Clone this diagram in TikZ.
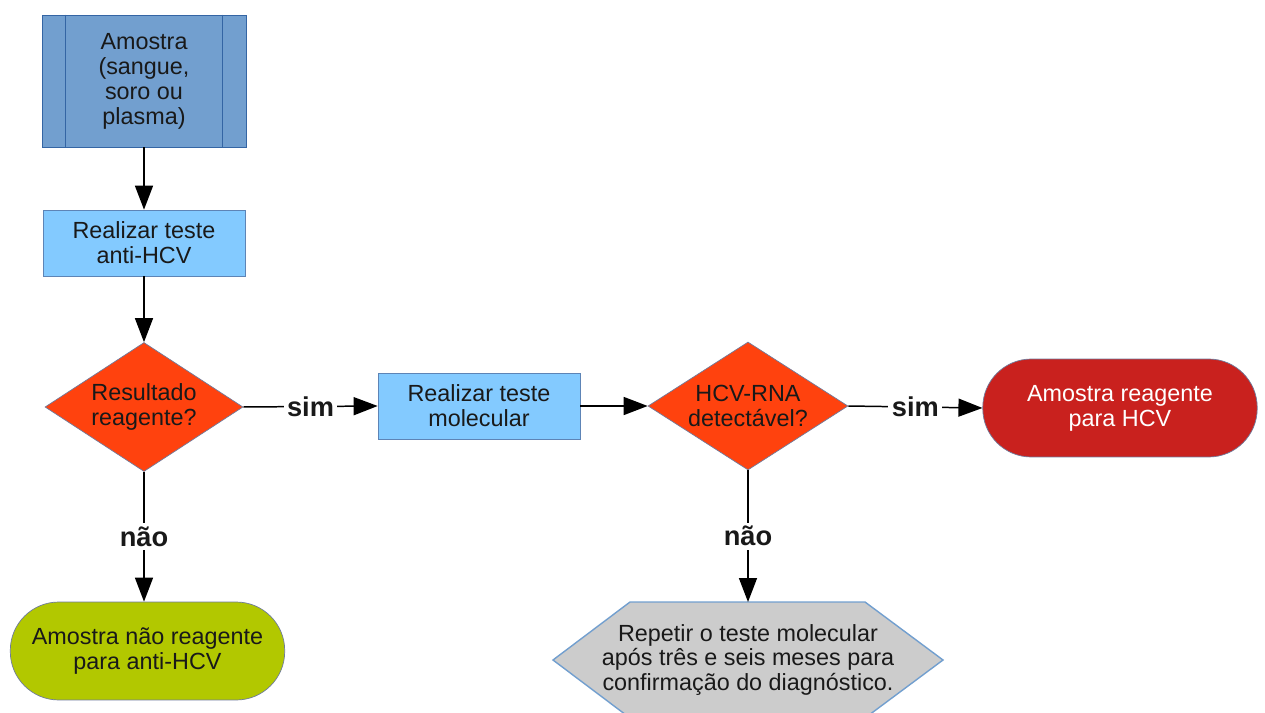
\documentclass[tikz,border=0pt]{standalone}
\usepackage{fontspec}
\setmainfont{Liberation Sans}
\usetikzlibrary{shapes.geometric,arrows.meta}

\definecolor{azulescuro}{HTML}{729FCF}
\definecolor{bordaazul}{HTML}{3465A4}
\definecolor{celeste}{HTML}{83CAFF}
\definecolor{laranja}{HTML}{FF420E}
\definecolor{bordacinza}{HTML}{6F7B9C}
\definecolor{vermelho}{HTML}{C9211E}
\definecolor{verde}{HTML}{B2C800}
\definecolor{cinzaclaro}{HTML}{CCCCCC}

\begin{document}
\begin{tikzpicture}[x=0.02cm,y=-0.02cm,
  every node/.style={font=\fontsize{13.3}{14.2}\selectfont, text=black!90, align=center, inner sep=0pt},
  processo/.style={rectangle, draw=bordaazul!80, fill=celeste, minimum width=4.04cm, minimum height=1.32cm},
  decisao/.style={diamond, draw=bordacinza, fill=laranja, aspect=1.53},
  terminal/.style={rectangle, rounded corners=0.97cm, draw=bordacinza, minimum width=5.49cm, minimum height=1.96cm},
  seta/.style={draw=black, line width=0.85pt, -{Triangle[length=0.48cm,width=0.36cm]}},
  rotulo/.style={fill=white, font=\fontsize{15.5}{16}\bfseries\selectfont, inner sep=2pt}]
\useasboundingbox (0,0) rectangle (1265,713);
\clip (0,0) rectangle (1265,713);

% caixas
\node[rectangle, draw=bordaazul, fill=azulescuro, minimum width=4.08cm, minimum height=2.64cm] (amostra) at (144,81) {Amostra\\(sangue,\\soro ou\\plasma)};
\draw[bordaazul] ([xshift=0.48cm]amostra.north west) -- ([xshift=0.48cm]amostra.south west);
\draw[bordaazul] ([xshift=-0.48cm]amostra.north east) -- ([xshift=-0.48cm]amostra.south east);

\node[processo] (teste1) at (144,243) {Realizar teste\\anti-HCV};
\node[decisao, minimum width=3.96cm, minimum height=2.58cm] (dec1) at (144,407) {Resultado\\reagente?};
\node[processo] (teste2) at (479,406) {Realizar teste\\molecular};
\node[decisao, minimum width=4cm, minimum height=2.56cm] (dec2) at (748,406) {HCV-RNA\\detectável?};

\node[terminal, fill=vermelho, text=white] (positivo) at (1120,408) {Amostra reagente\\para HCV};
\node[terminal, fill=verde] (negativo) at (147.5,651) {Amostra não reagente\\para anti-HCV};

\filldraw[fill=cinzaclaro, draw=azulescuro, line width=0.8pt] (630,602) -- (865,602) -- (943,660) -- (865,718) -- (630,718) -- (553,660) -- cycle;
\node (repetir) at (748,660) {Repetir o teste molecular\\após três e seis meses para\\confirmação do diagnóstico.};
\coordinate (topo) at (748,602);

% setas
\draw[seta] (amostra) -- (teste1);
\draw[seta] (teste1) -- (dec1);
\draw[seta] (dec1.east) -- node[rotulo] {sim} (teste2.west);
\draw[seta] (teste2.east) -- (dec2.west);
\draw[seta] (dec2.east) -- node[rotulo] {sim} (positivo.west);
\draw[seta] (dec1.south) -- node[rotulo] {não} (dec1.south |- negativo.north);
\draw[seta] (dec2.south) -- node[rotulo] {não} (topo);
\end{tikzpicture}
\end{document}
